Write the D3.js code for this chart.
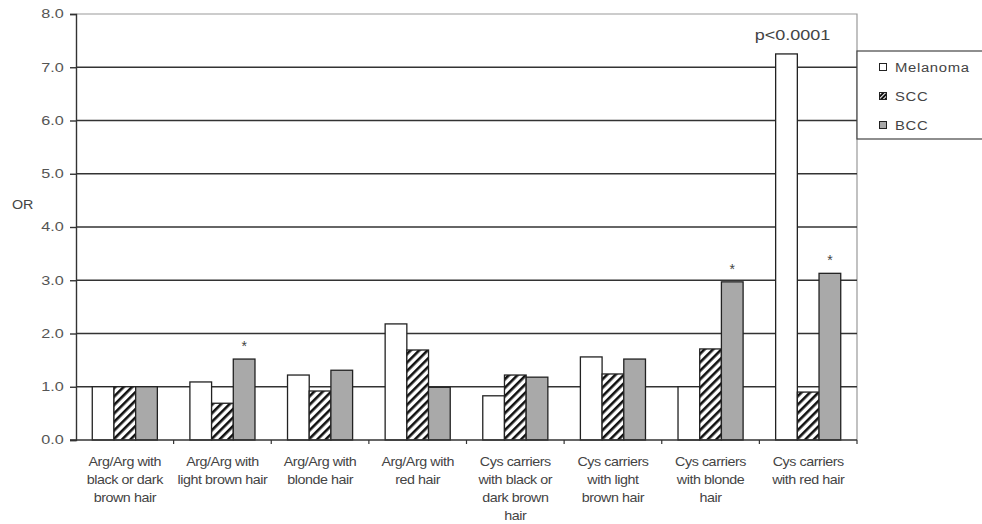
<!DOCTYPE html>
<html>
<head>
<meta charset="utf-8">
<script src="https://cdn.jsdelivr.net/npm/d3@7"></script>
<style>
  body { margin: 0; background: #fff; }
  svg { display: block; font-family: "Liberation Sans", Arial, sans-serif; }
</style>
</head>
<body>
<svg id="chart" width="982" height="524"></svg>
<script>
const categories = [
  ["Arg/Arg with", "black or dark", "brown hair"],
  ["Arg/Arg with", "light brown hair"],
  ["Arg/Arg with", "blonde hair"],
  ["Arg/Arg with", "red hair"],
  ["Cys carriers", "with black or", "dark brown", "hair"],
  ["Cys carriers", "with light", "brown hair"],
  ["Cys carriers", "with blonde", "hair"],
  ["Cys carriers", "with red hair"]
];
const series = ["Melanoma", "SCC", "BCC"];
const melanoma = [1.0, 1.09, 1.22, 2.18, 0.83, 1.56, 1.0, 7.25];
const scc      = [1.0, 0.69, 0.92, 1.69, 1.22, 1.24, 1.71, 0.90];
const bcc      = [1.0, 1.52, 1.31, 0.99, 1.18, 1.52, 2.97, 3.13];
const stars    = [null, "BCC", null, null, null, null, "BCC", "BCC"];
const yTicks   = [0, 1, 2, 3, 4, 5, 6, 7, 8];
const annotation = "p<0.0001";

(function () {
const values = { Melanoma: melanoma, SCC: scc, BCC: bcc };
const svg = d3.select("#chart");

const pLeft = 76, pRight = 857, pTop = 14, pBottom = 440;
const y = d3.scaleLinear().domain([0, 8]).range([pBottom, pTop]);
const x = d3.scaleBand().domain(d3.range(categories.length)).range([pLeft, pRight]).padding(0);
const xs = d3.scaleBand().domain(series).range([0, x.bandwidth()]).paddingInner(0).paddingOuter(0.75);

// patterns
const defs = svg.append("defs");
const pat = defs.append("pattern").attr("id", "hatch").attr("patternUnits", "userSpaceOnUse")
  .attr("width", 6).attr("height", 6).attr("patternTransform", "rotate(45)");
pat.append("rect").attr("width", 6).attr("height", 6).attr("fill", "#fff");
pat.append("rect").attr("x", 0).attr("width", 2.6).attr("height", 6).attr("fill", "#111");
const pat2 = defs.append("pattern").attr("id", "hatchS").attr("patternUnits", "userSpaceOnUse")
  .attr("width", 3).attr("height", 3).attr("patternTransform", "rotate(45)");
pat2.append("rect").attr("width", 3).attr("height", 3).attr("fill", "#fff");
pat2.append("rect").attr("width", 2).attr("height", 3).attr("fill", "#111");

const fills = { Melanoma: "#ffffff", SCC: "url(#hatch)", BCC: "#a9a9a9" };

// plot border (top and right)
svg.append("path")
  .attr("d", `M${pLeft},${pTop}H${pRight}V${pBottom}`)
  .attr("fill", "none").attr("stroke", "#999").attr("stroke-width", 1.2);

// gridlines
svg.append("g").selectAll("line").data(yTicks.filter(t => t > 0 && t < 8)).join("line")
  .attr("x1", pLeft).attr("x2", pRight)
  .attr("y1", d => y(d)).attr("y2", d => y(d))
  .attr("stroke", "#333").attr("stroke-width", 1.4);

// y axis
const yAxis = d3.axisLeft(y).tickValues(yTicks).tickFormat(d3.format(".1f")).tickSize(6).tickPadding(3);
const gy = svg.append("g").attr("transform", `translate(${pLeft},0)`).call(yAxis);
gy.select(".domain").attr("stroke", "#333").attr("stroke-width", 1.4);
gy.selectAll(".tick line").attr("stroke", "#333").attr("stroke-width", 1.4);
gy.selectAll(".tick text").attr("font-size", 12).attr("fill", "#555")
  .attr("font-family", "'Liberation Sans', Arial, sans-serif")
  .attr("transform", "scale(1.35,1)");

// bars
const groups = svg.append("g").selectAll("g").data(categories.map((c, i) => i)).join("g")
  .attr("transform", i => `translate(${x(i)},0)`);
groups.selectAll("rect").data(i => series.map(s => ({ s, v: values[s][i] }))).join("rect")
  .attr("x", d => xs(d.s)).attr("width", xs.bandwidth())
  .attr("y", d => y(d.v)).attr("height", d => y(0) - y(d.v))
  .attr("fill", d => fills[d.s]).attr("stroke", "#222").attr("stroke-width", 1.3);

// stars
groups.filter(i => stars[i]).append("text")
  .attr("x", i => xs(stars[i]) + xs.bandwidth() / 2)
  .attr("y", i => y(values[stars[i]][i]) - 8)
  .attr("text-anchor", "middle").attr("font-size", 14).attr("fill", "#444").text("*");

// p annotation
svg.append("text")
  .attr("transform", `translate(${x(7) + xs("Melanoma") + xs.bandwidth() / 2 + 6},40) scale(1.2,1)`)
  .attr("text-anchor", "middle").attr("font-size", 15).attr("fill", "#444")
  .text(annotation);

// x axis
svg.append("line").attr("x1", pLeft - 6).attr("x2", pRight).attr("y1", pBottom).attr("y2", pBottom)
  .attr("stroke", "#333").attr("stroke-width", 1.4);
svg.append("g").selectAll("line").data(d3.range(1, categories.length + 1)).join("line")
  .attr("x1", i => x(0) + i * x.step()).attr("x2", i => x(0) + i * x.step())
  .attr("y1", pBottom).attr("y2", pBottom + 4)
  .attr("stroke", "#333").attr("stroke-width", 1.2);

// x labels
const lab = svg.append("g").selectAll("text").data(categories.map((c, i) => i)).join("text")
  .attr("transform", i => `translate(${x(i) + x.bandwidth() / 2},0) scale(1.1,1)`)
  .attr("text-anchor", "middle").attr("font-size", 13).attr("fill", "#444")
  .attr("letter-spacing", "-0.4px");
lab.selectAll("tspan").data(i => categories[i].map(t => ({ t, i }))).join("tspan")
  .attr("x", 0)
  .attr("y", (d, j) => 466 + j * 18)
  .text(d => d.t);

// y title
svg.append("text").attr("transform", "translate(12,209) scale(1.1,1)")
  .attr("font-size", 13).attr("fill", "#444").text("OR");

// legend
const lg = svg.append("g");
lg.append("rect").attr("x", pRight).attr("y", 51).attr("width", 140).attr("height", 88)
  .attr("fill", "#fff").attr("stroke", "#444").attr("stroke-width", 1.2);
const legFills = { Melanoma: "#fff", SCC: "url(#hatchS)", BCC: "#a9a9a9" };
const li = lg.selectAll("g").data(series).join("g")
  .attr("transform", (d, i) => `translate(883,${67 + i * 29})`);
li.append("rect").attr("x", -3.5).attr("y", -3.5).attr("width", 7).attr("height", 7)
  .attr("fill", d => legFills[d]).attr("stroke", "#222").attr("stroke-width", 1);
li.append("text").attr("transform", "translate(12,5) scale(1.1,1)")
  .attr("font-size", 13.5).attr("fill", "#444")
  .attr("letter-spacing", "0.6px").text(d => d);
})();
</script>
</body>
</html>
